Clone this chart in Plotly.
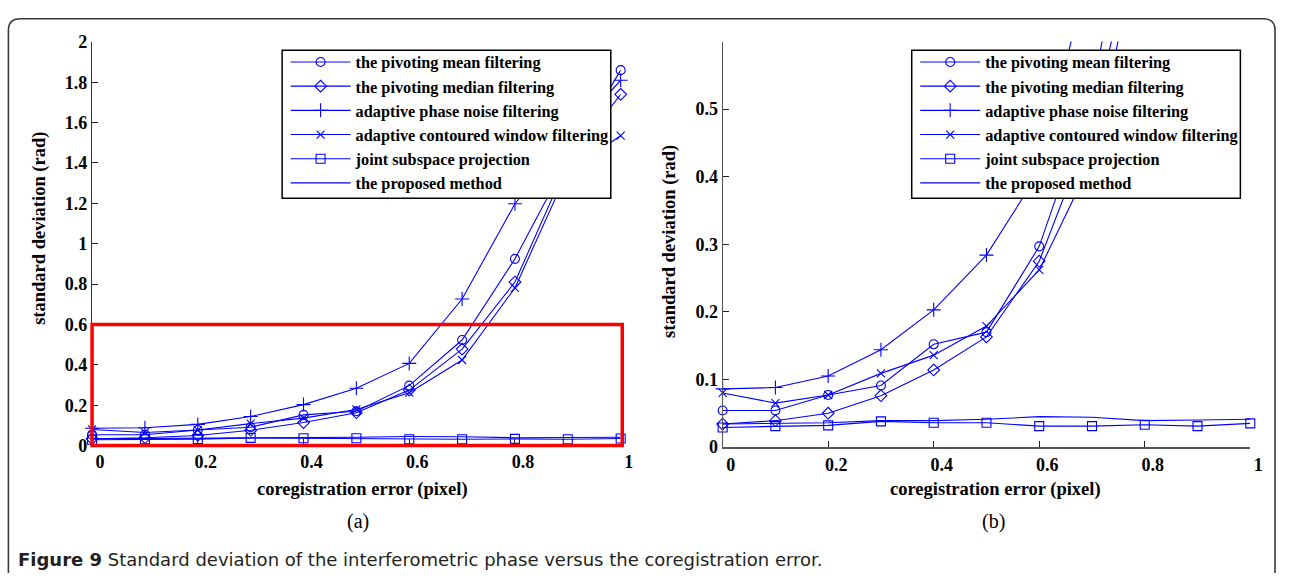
import plotly.graph_objects as go

# ---- data -----------------------------------------------------------------
coreg_error = [0.0, 0.1, 0.2, 0.3, 0.4, 0.5, 0.6, 0.7, 0.8, 0.9, 1.0]

pivot_mean = [0.054, 0.054, 0.077, 0.091, 0.152, 0.170, 0.297, 0.523, 0.925, 1.42, 1.86]
pivot_median = [0.034, 0.039, 0.050, 0.076, 0.114, 0.163, 0.275, 0.478, 0.810, 1.40, 1.74]
adaptive_phase = [0.086, 0.088, 0.105, 0.144, 0.203, 0.284, 0.407, 0.726, 1.198, 1.52, 1.81]
adaptive_contour = [0.080, 0.065, 0.077, 0.109, 0.136, 0.179, 0.262, 0.424, 0.781, 1.36, 1.535]
joint_subspace = [0.029, 0.031, 0.032, 0.038, 0.036, 0.036, 0.031, 0.031, 0.033, 0.031, 0.035]
proposed = [0.034, 0.035, 0.036, 0.039, 0.039, 0.041, 0.045, 0.044, 0.039, 0.040, 0.041]

series_names = [
    "the pivoting mean filtering",
    "the pivoting median filtering",
    "adaptive phase noise filtering",
    "adaptive contoured window filtering",
    "joint subspace projection",
    "the proposed method",
]

x_ticks = [0, 0.2, 0.4, 0.6, 0.8, 1.0]
x_tick_text = ["0", "0.2", "0.4", "0.6", "0.8", "1"]
left_y_ticks = [0, 0.2, 0.4, 0.6, 0.8, 1.0, 1.2, 1.4, 1.6, 1.8, 2.0]
left_y_tick_text = ["0", "0.2", "0.4", "0.6", "0.8", "1", "1.2", "1.4", "1.6", "1.8", "2"]
right_y_ticks = [0, 0.1, 0.2, 0.3, 0.4, 0.5]
right_y_tick_text = ["0", "0.1", "0.2", "0.3", "0.4", "0.5"]

LEFT_YMAX = 2.0
ZOOM_YMAX = 0.6   # upper limit of the enlarged view (b), outlined in red on (a)

# ---- styling --------------------------------------------------------------
W, H = 1290, 585
BLUE = "#0000ff"
SERIF = "Liberation Serif"


def fx(px):
    return px / W


def fy(py):
    return 1 - py / H


markers = [
    ("circle-open", 9),
    ("diamond-open", 9),
    ("cross-thin-open", 10),
    ("x-thin-open", 8),
    ("square-open", 9),
    (None, 0),
]
values = [pivot_mean, pivot_median, adaptive_phase, adaptive_contour, joint_subspace, proposed]

fig = go.Figure()
for xa, ya, leg in (("x", "y", "legend"), ("x2", "y2", "legend2")):
    for name, vals, (sym, size) in zip(series_names, values, markers):
        kw = dict(
            x=coreg_error, y=vals, name=name, xaxis=xa, yaxis=ya, legend=leg,
            cliponaxis=False, line=dict(color=BLUE, width=1.1),
        )
        if sym:
            kw["mode"] = "lines+markers"
            kw["marker"] = dict(symbol=sym, size=size, color=BLUE,
                                line=dict(color=BLUE, width=1.1))
        else:
            kw["mode"] = "lines"
        fig.add_trace(go.Scatter(**kw))

tick_font = dict(family=SERIF, size=18, color="black", weight="bold")
axis_common = dict(
    showline=True, linecolor="#333", linewidth=1.3, ticks="inside", ticklen=6,
    tickwidth=1, tickcolor="#222", showgrid=False, zeroline=False,
    tickfont=tick_font, fixedrange=True,
)

# legend entries sit on a white boxed panel drawn as a shape
legend_common = dict(
    bgcolor="rgba(0,0,0,0)", borderwidth=0,
    font=dict(family=SERIF, size=16.3, color="black", weight="bold"),
    xanchor="left", yanchor="top", itemwidth=60, traceorder="normal",
    tracegroupgap=0,
)
legend_boxes = [(285, 617), (921, 1253)]
legend_top, legend_bottom = 41.7, 195

title_font = dict(family=SERIF, size=18.5, color="black", weight="bold")
label_font = dict(family=SERIF, size=20, color="black")


def note(text, x, y, font, **extra):
    return dict(text=text, x=fx(x), y=fy(y), xref="paper", yref="paper",
                xanchor=extra.pop("xanchor", "center"), yanchor="middle",
                showarrow=False, font=font, **extra)


# rounded outer frame drawn as a path in paper coordinates
fl, ft, fr, fb, rad = 8.5, 9, 1288, 583, 12
frame_path = (
    f"M {fx(fl)},{fy(fb)} L {fx(fl)},{fy(ft + rad)} "
    f"Q {fx(fl)},{fy(ft)} {fx(fl + rad)},{fy(ft)} "
    f"L {fx(fr - rad)},{fy(ft)} Q {fx(fr)},{fy(ft)} {fx(fr)},{fy(ft + rad)} "
    f"L {fx(fr)},{fy(fb)}"
)

shapes = [
    dict(type="rect", xref="x domain", yref="y domain", x0=0, x1=1.003,
         y0=0, y1=ZOOM_YMAX / LEFT_YMAX, line=dict(color="#ff0000", width=3.5),
         layer="above"),
    dict(type="path", xref="paper", yref="paper", path=frame_path,
         line=dict(color="#3a3a3a", width=1.6)),
]
for bx0, bx1 in legend_boxes:
    shapes.append(dict(type="rect", xref="paper", yref="paper",
                       x0=fx(bx0), x1=fx(bx1), y0=fy(legend_bottom), y1=fy(legend_top),
                       fillcolor="white", line=dict(color="black", width=1.5),
                       layer="above"))

fig.update_layout(
    width=W, height=H, margin=dict(l=0, r=0, t=0, b=0),
    paper_bgcolor="white", plot_bgcolor="white",
    xaxis=dict(axis_common, domain=[fx(93), fx(627)], range=[0, 1], anchor="y",
               tickvals=x_ticks, ticktext=x_tick_text, ticklabelshift=8),
    yaxis=dict(axis_common, domain=[fy(451), fy(33)], range=[0, LEFT_YMAX], anchor="x",
               tickvals=left_y_ticks, ticktext=left_y_tick_text),
    xaxis2=dict(axis_common, domain=[fx(730), fx(1263)], range=[0, 1], anchor="y2",
                tickvals=x_ticks, ticktext=x_tick_text, ticklabelshift=8,
                linecolor="#555", linewidth=2),
    yaxis2=dict(axis_common, domain=[fy(452.5), fy(32.7)], range=[0, ZOOM_YMAX], anchor="x2",
                tickvals=right_y_ticks, ticktext=right_y_tick_text, linecolor="#555"),
    legend=dict(legend_common, x=fx(legend_boxes[0][0] + 3.5), y=fy(legend_top - 5.6)),
    legend2=dict(legend_common, x=fx(legend_boxes[1][0] + 3.5), y=fy(legend_top - 5.6)),
    showlegend=True,
    shapes=shapes,
    annotations=[
        note("coregistration error (pixel)", 366, 496.7, title_font),
        note("coregistration error (pixel)", 1006, 496.7, title_font),
        note("standard deviation (rad)", 40, 226, title_font, textangle=-90),
        note("standard deviation (rad)", 677, 240, title_font, textangle=-90),
        note("(a)", 362, 530, label_font),
        note("(b)", 1004, 530, label_font),
        note("<b>Figure 9</b> Standard deviation of the interferometric phase versus the coregistration error.",
             16.5, 569, dict(family="DejaVu Sans", size=18, color="#231f20"), xanchor="left"),
    ],
)

fig.write_html("out.html")
